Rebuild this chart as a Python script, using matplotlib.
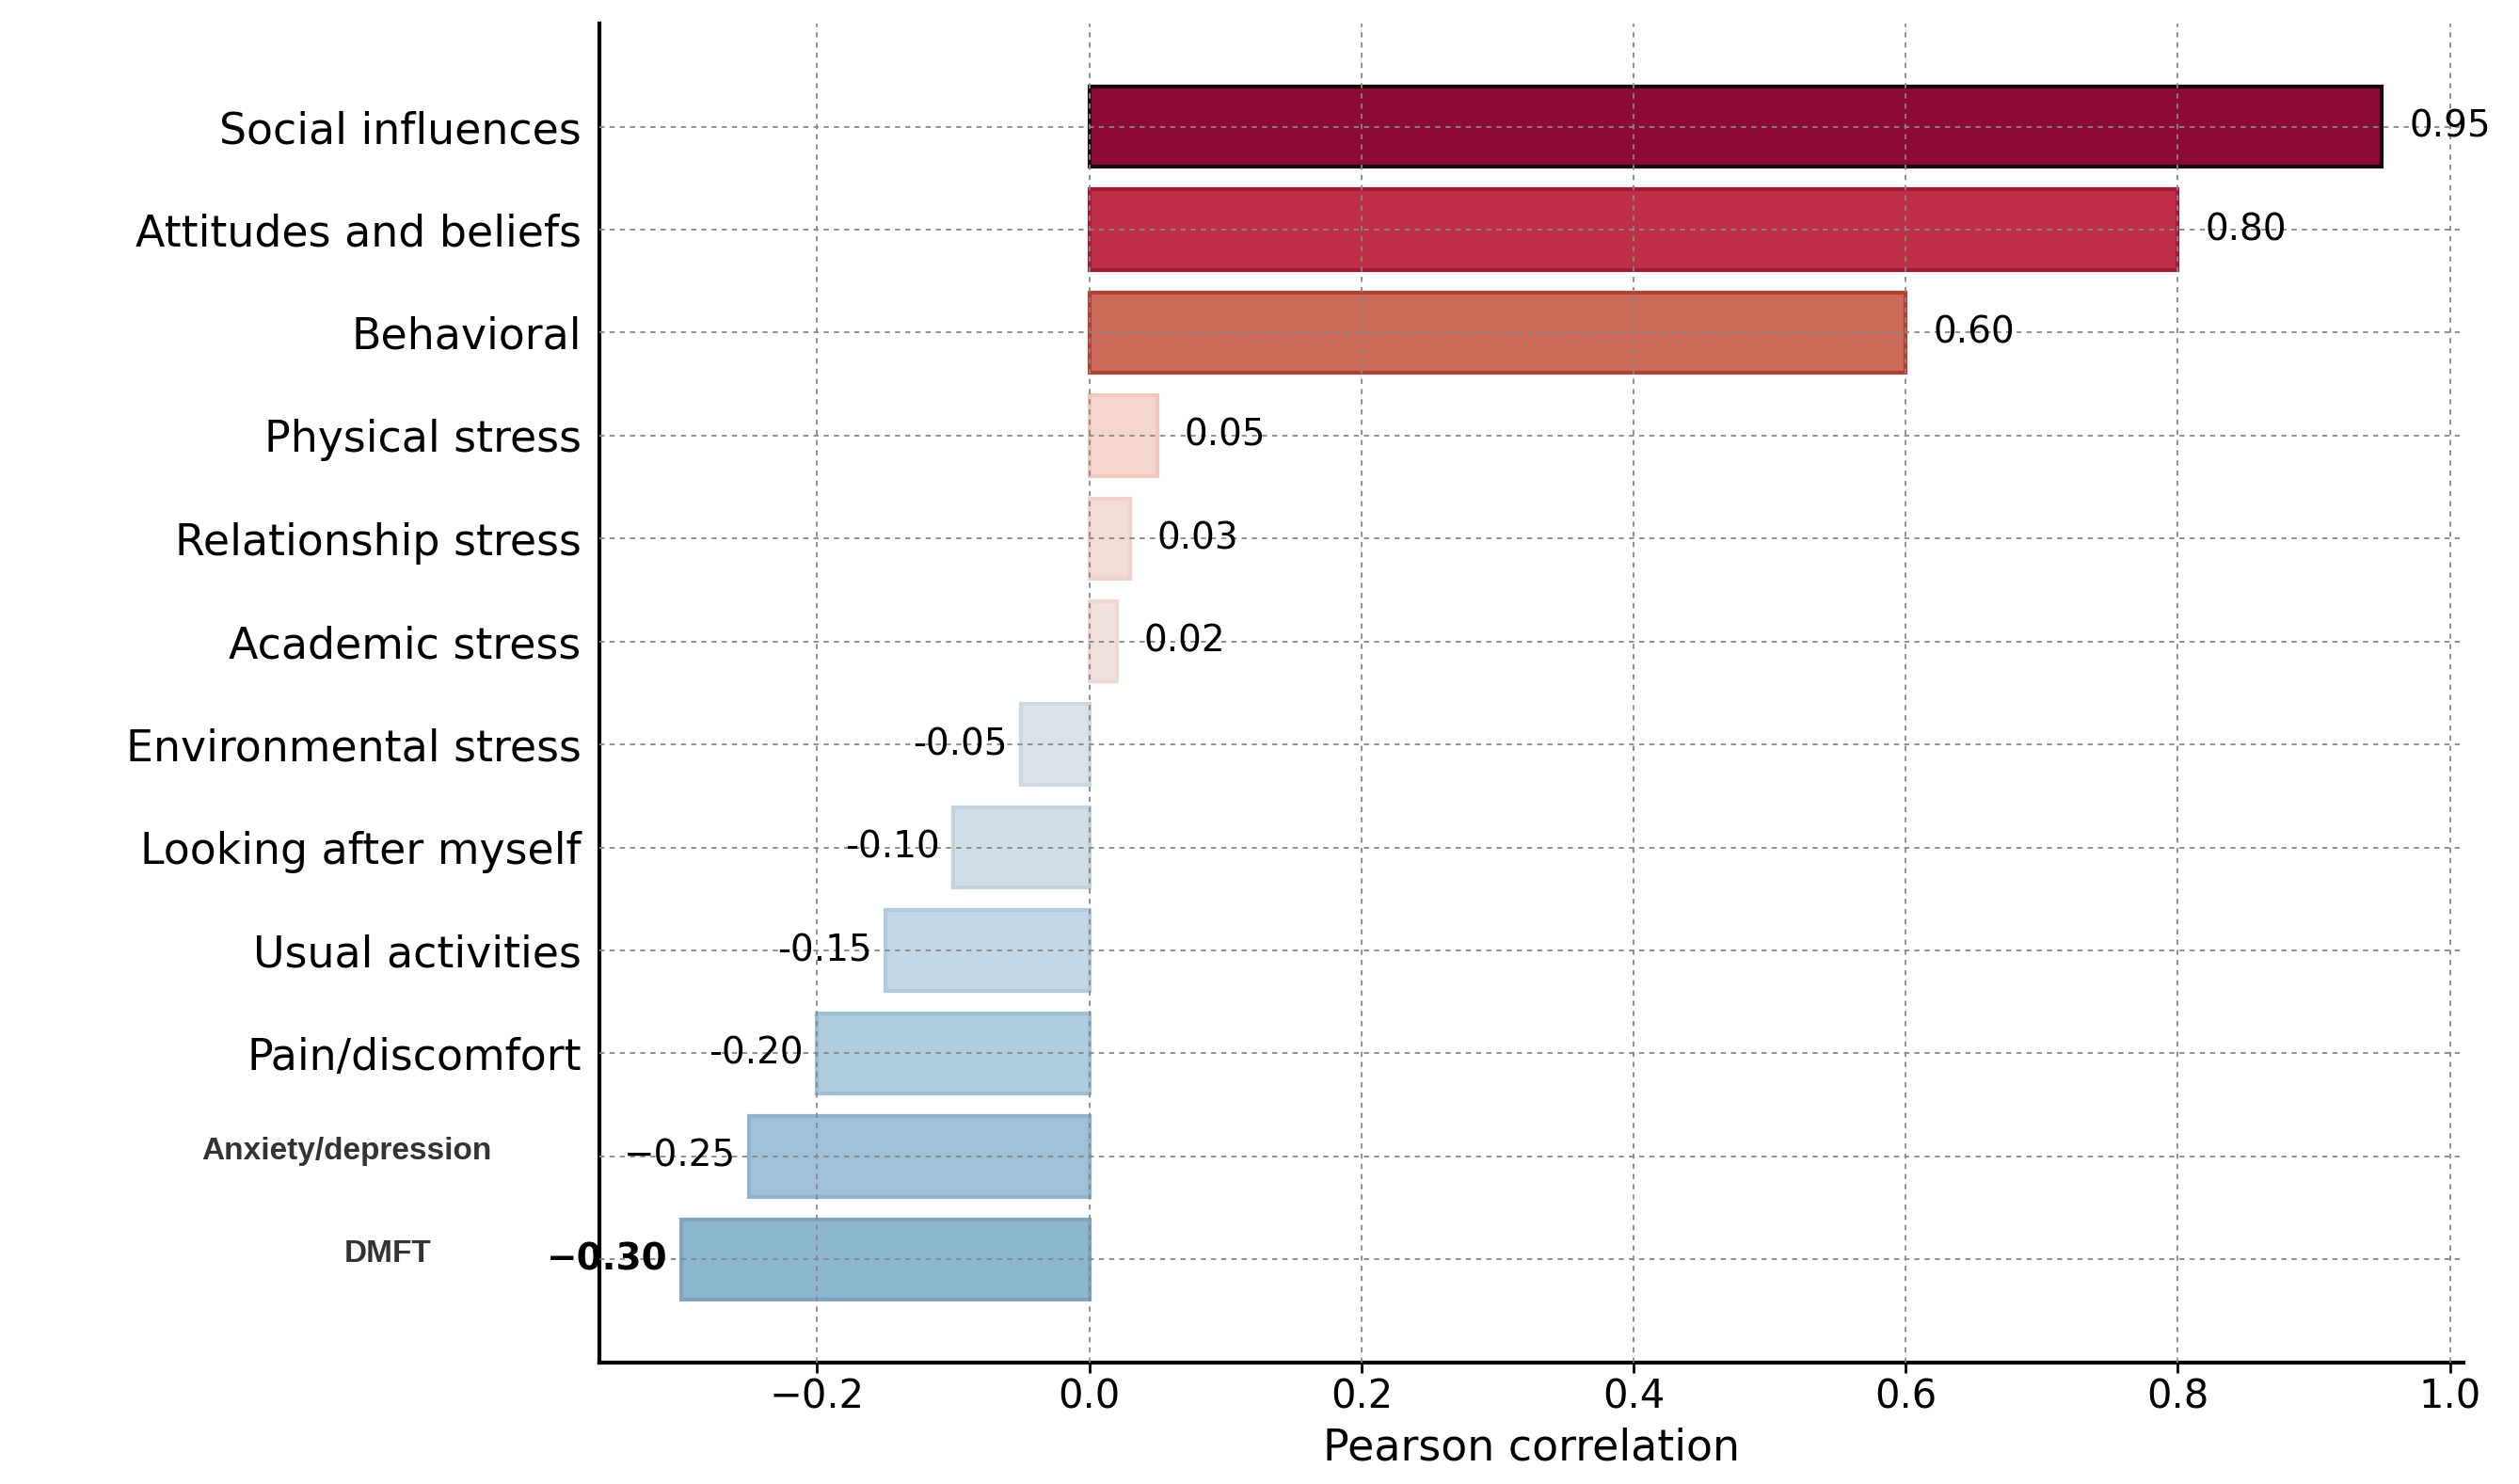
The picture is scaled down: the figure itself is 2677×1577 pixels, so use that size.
import matplotlib
matplotlib.use("Agg")
import matplotlib.pyplot as plt
import matplotlib.transforms as mtransforms

categories = ["Social influences", "Attitudes and beliefs", "Behavioral", "Physical stress",
              "Relationship stress", "Academic stress", "Environmental stress",
              "Looking after myself", "Usual activities", "Pain/discomfort",
              "Anxiety/depression", "DMFT"]
values = [0.95, 0.80, 0.60, 0.05, 0.03, 0.02, -0.05, -0.10, -0.15, -0.20, -0.25, -0.30]
value_labels = ["0.95", "0.80", "0.60", "0.05", "0.03", "0.02", "-0.05", "-0.10",
                "-0.15", "-0.20", "\u22120.25", "\u22120.30"]
colors = ["#8e0b37", "#bf2f48", "#cd6b5b", "#f5d6cd", "#f3dcd6", "#f1e1dd",
          "#dbe3ea", "#d1dee7", "#c3d8e6", "#b0cde0", "#9fc2d9", "#8db6cf"]
edges = ["#1a0a0a", "#a01c36", "#b0402f", "#f0c8bd", "#efd3cc", "#eed8d3",
         "#cdd8e1", "#c2d3de", "#b2cbdc", "#9fbfd4", "#8eb4cd", "#7fa6be"]

fig = plt.figure(figsize=(26.77, 15.77), dpi=100)
ax = fig.add_axes([0.238, 0.082, 0.74, 0.902])
y = list(range(len(categories)))
ax.barh(y, values, height=0.78, color=colors, edgecolor=edges, linewidth=3, zorder=2)
ax.set_xlim(-0.36, 1.01)
ax.set_ylim(len(categories), -1)
ax.grid(True, linestyle=(0, (3, 3)), color="#888888", linewidth=1.3, zorder=3)
ax.set_axisbelow(False)
for s in ["top", "right"]:
    ax.spines[s].set_visible(False)
ax.spines["left"].set_linewidth(3)
ax.spines["bottom"].set_linewidth(3)

ax.set_yticks(y)
ax.set_yticklabels(categories[:10] + ["", ""], fontsize=33)
trans = mtransforms.blended_transform_factory(ax.transAxes, ax.transData)
for i in (10, 11):
    ax.text(-0.058 if i == 10 else -0.09, y[i] - 0.05, categories[i], transform=trans,
            ha="right", va="center", fontsize=24, fontweight="bold",
            family="Liberation Sans", color="#333333")
ax.tick_params(axis="y", length=0, pad=14)
ax.set_xticks([-0.2, 0.0, 0.2, 0.4, 0.6, 0.8, 1.0])
ax.set_xticklabels(["\u22120.2", "0.0", "0.2", "0.4", "0.6", "0.8", "1.0"], fontsize=30)
ax.tick_params(axis="x", length=8, width=2)
ax.set_xlabel("Pearson correlation", fontsize=33, labelpad=8)

for i, (v, lab) in enumerate(zip(values, value_labels)):
    if v >= 0:
        ax.text(v + 0.02, i, lab, ha="left", va="center", fontsize=28)
    else:
        ax.text(v - 0.01, i, lab, ha="right", va="center", fontsize=28,
                fontweight="bold" if i == 11 else "normal")

fig.savefig("out.png", dpi=100)
